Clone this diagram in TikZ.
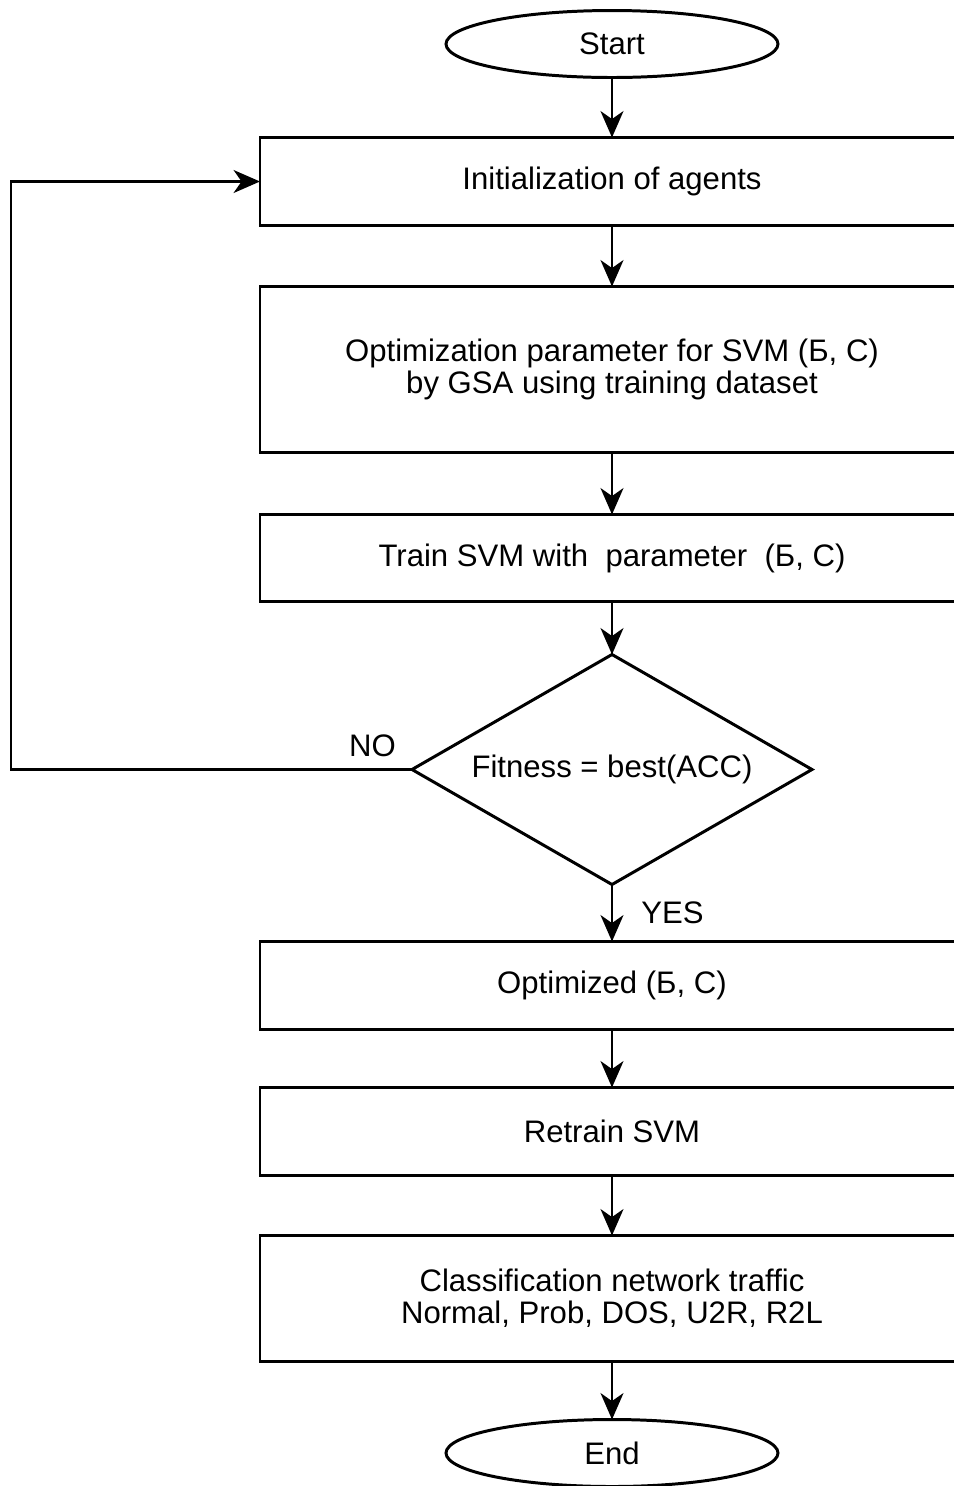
\documentclass[tikz,border=0pt]{standalone}
\usepackage{fontspec}
\setmainfont{Liberation Sans}
\usetikzlibrary{positioning, arrows.meta, shapes.geometric}

\begin{document}
\begin{tikzpicture}[
    >={Stealth[length=15pt, width=13pt, inset=4.5pt]},
    every node/.style={font=\fontsize{17.7}{18.2}\selectfont},
    terminal/.style={ellipse, draw, line width=1.7pt, outer sep=0pt,
                minimum width=6.64cm, minimum height=1.34cm, inner sep=0pt},
    box/.style={rectangle, draw, line width=1.7pt, outer sep=0pt,
                minimum width=14.08cm, minimum height=1.76cm, align=center},
    decision/.style={diamond, draw, line width=1.7pt, outer sep=0pt, aspect=1.74,
                minimum width=8cm, minimum height=4.6cm, inner sep=0pt},
    line/.style={->, line width=1.7pt}
  ]
  \useasboundingbox (0,0) rectangle (19.08,-29.72);

  % Main chain
  \node[terminal] (start) at (12.24,-0.88) {Start};
  \node[box] (init) [below=1.2cm of start] {Initialization of agents};
  \node[box, minimum height=3.32cm] (optim) [below=1.22cm of init] {Optimization parameter for SVM (Б, C)\\by GSA using training dataset};
  \node[box, minimum height=1.74cm] (train) [below=1.24cm of optim] {Train SVM with\ \ parameter\ \ (Б, C)};
  \node[decision] (fit) [below=1.06cm of train] {Fitness = best(ACC)};
  \node[box] (best) [below=1.14cm of fit] {Optimized (Б, C)};
  \node[box] (retrain) [below=1.16cm of best] {Retrain SVM};
  \node[box, minimum height=2.52cm] (classify) [below=1.2cm of retrain] {Classification network traffic\\Normal, Prob, DOS, U2R, R2L};
  \node[terminal] (end) [below=1.16cm of classify] {End};

  % Loop back
  \coordinate[left=8.02cm of fit.west] (loop);
  \node[above left=0.14cm and 0.2cm of fit.west] (no) {NO};

  % Connections
  \draw[line] (start) -- (init);
  \draw[line] (init) -- (optim);
  \draw[line] (optim) -- (train);
  \draw[line] (train) -- (fit);
  \draw[line] (fit) -- (best) node[midway, right=0.44cm] (yes) {YES};
  \draw[line] (best) -- (retrain);
  \draw[line] (retrain) -- (classify);
  \draw[line] (classify) -- (end);
  \draw[line] (fit.west) -- (loop) |- (init.west);
\end{tikzpicture}
\end{document}
